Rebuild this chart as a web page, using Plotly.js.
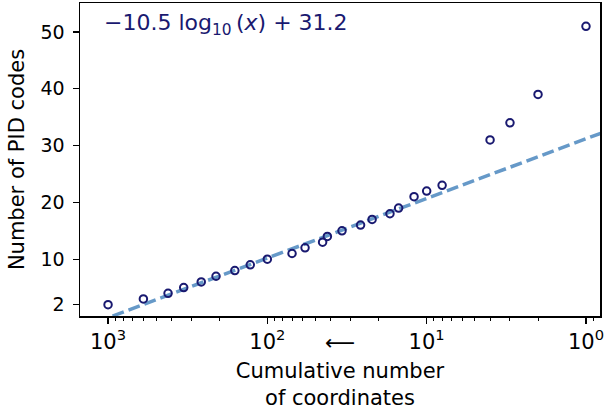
<!DOCTYPE html>
<html>
<head>
<meta charset="utf-8">
<script src="https://cdn.plot.ly/plotly-3.0.1.min.js"></script>
<style>html,body{margin:0;padding:0;background:#fff;}#chart{width:605px;height:410px;}</style>
</head>
<body>
<div id="chart"></div>
<script>
// Data
const cumulativeCoords = [1000, 600, 420, 335, 260, 210, 160, 128, 100, 70, 58, 45, 42, 34, 26, 22, 17, 15, 12, 10, 8, 4, 3, 2, 1];
const pidCodes =         [2,    3,   4,   5,   6,   7,   8,   9,   10,  11, 12, 13, 14, 15, 16, 17, 18, 19, 21, 22, 23, 31, 34, 39, 51];
const fitSlope = -10.5;
const fitIntercept = 31.2;
const xTickVals = [1000, 100, 10, 1];
const xTickText = ['10<sup>3</sup>', '10<sup>2</sup>', '10<sup>1</sup>', '10<sup>0</sup>'];
const yTickVals = [2, 10, 20, 30, 40, 50];

const navy = '#191970';
const lineColor = '#6699c8';
const font = 'DejaVu Sans, sans-serif';

// Fit line spanning the visible axis range
const xLo = Math.log10(0.8), xHi = Math.log10(1500);
const lineX = [], lineY = [];
for (let i = 0; i <= 50; i++) {
  const lx = xLo + (xHi - xLo) * i / 50;
  lineX.push(Math.pow(10, lx));
  lineY.push(fitSlope * lx + fitIntercept);
}

// minor log ticks
const minorVals = [];
for (let d = -1; d <= 3; d++) for (let k = 2; k <= 9; k++) minorVals.push(k * Math.pow(10, d));

const traces = [
  {x: lineX, y: lineY, mode: 'lines', type: 'scatter',
   line: {color: lineColor, width: 3.5, dash: '12px,5px'}, hoverinfo: 'skip'},
  {x: cumulativeCoords, y: pidCodes, mode: 'markers', type: 'scatter',
   marker: {symbol: 'circle-open', size: 7.5, color: navy, line: {width: 2, color: navy}}}
];

const layout = {
  width: 605, height: 410,
  margin: {l: 80, r: 5, t: 3, b: 94},
  showlegend: false,
  paper_bgcolor: '#fff', plot_bgcolor: '#fff',
  font: {family: font, color: '#000', size: 21},
  xaxis: {
    type: 'log', range: [3.176, -0.088], autorange: false,
    tickvals: xTickVals, ticktext: xTickText,
    ticks: 'outside', ticklen: 6, tickwidth: 1.2, tickcolor: '#000',
    showgrid: false, zeroline: false,
    showline: true, linecolor: '#000', linewidth: 1.5, mirror: true,
    tickfont: {family: font, size: 21, color: '#000'},
    minor: {tickvals: minorVals, ticks: 'outside', ticklen: 3.5, tickwidth: 1, tickcolor: '#000', showgrid: false},
    automargin: false,
    title: {text: '⟵<br>Cumulative number<br>of coordinates', font: {family: font, size: 21, color: '#000'}, standoff: 4}
  },
  yaxis: {
    range: [0, 55.1], autorange: false,
    tickvals: yTickVals,
    ticks: 'outside', ticklen: 6, tickwidth: 1.2, tickcolor: '#000',
    ticklabelstandoff: 4,
    showgrid: false, zeroline: false,
    showline: true, linecolor: '#000', linewidth: 1.5, mirror: true,
    tickfont: {family: font, size: 19, color: '#000'},
    automargin: false,
    title: {text: 'Number of PID codes', font: {family: font, size: 21, color: '#000'}, standoff: 10}
  },
  annotations: [{
    xref: 'paper', yref: 'paper', x: 0.042, y: 0.985, xanchor: 'left', yanchor: 'top',
    text: '−10.5 log<sub>10</sub>\u2009(<i>x</i>) + 31.2', showarrow: false,
    font: {family: font, size: 22, color: navy}
  }]
};

Plotly.newPlot('chart', traces, layout, {displayModeBar: false, staticPlot: true});
</script>
</body>
</html>
